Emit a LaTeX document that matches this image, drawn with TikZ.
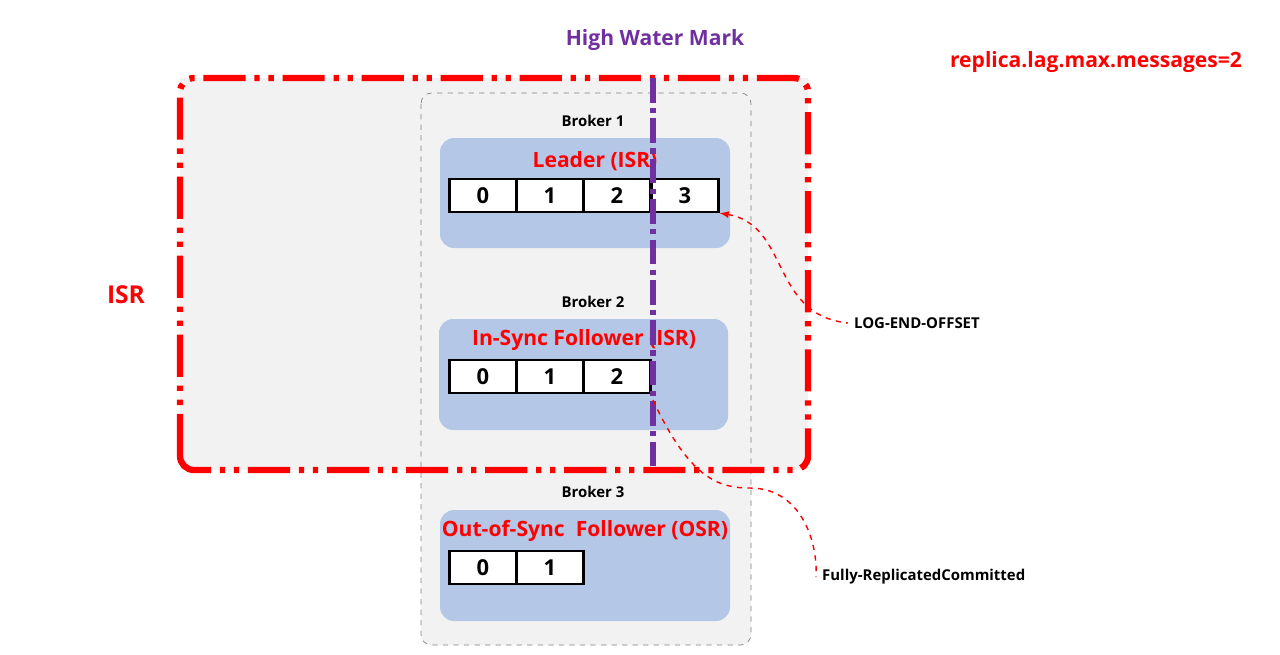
\documentclass[tikz,border=0pt]{standalone}
\usepackage{fontspec}
\setmainfont{Open Sans}
\usetikzlibrary{positioning,arrows.meta}
\definecolor{panel}{HTML}{F2F2F2}
\definecolor{blu}{HTML}{B4C7E7}
\definecolor{hwm}{HTML}{7030A0}
\definecolor{rd}{HTML}{FF0000}
\tikzset{
	broker/.style={font=\bfseries\fontsize{8.5}{10}\selectfont},
	title/.style={font=\bfseries\fontsize{12}{14}\selectfont,text=rd},
	cell/.style={draw,line width=1.2pt,fill=white,minimum width=1.34cm,minimum height=0.66cm,inner sep=0pt,font=\bfseries\fontsize{12.5}{14}\selectfont},
	logbox/.style={fill=blu,rounded corners=8pt},
	note/.style={font=\bfseries\fontsize{8.5}{10}\selectfont,anchor=west}
}
\begin{document}
\begin{tikzpicture}[x=0.02cm,y=-0.02cm,>=latex]
	\useasboundingbox (0,0) rectangle (1280,654);
	% ISR area fill and broker column
	\fill[panel] (180,78) rectangle (808,470);
	\draw[gray,dashed,fill=panel,rounded corners=6pt] (421,93) rectangle (751,645);

	% brokers
	\node (b1) [broker] at (593,121) {Broker 1};
	\fill[logbox] (440,138) rectangle (730,248);
	\node (t1) [title] at (595,161) {Leader (ISR)};
	\foreach \i/\x in {0/483,1/550,2/617,3/685}
		\node (l\i) [cell] at (\x,195.5) {\i};

	\node (b2) [broker] at (593,302) {Broker 2};
	\fill[logbox] (439,319) rectangle (728,430);
	\node (t2) [title] at (584,340) {In-Sync Follower (ISR)};
	\foreach \i/\x in {0/483,1/550,2/617}
		\node (f\i) [cell] at (\x,376.5) {\i};

	\node (b3) [broker] at (593,492) {Broker 3};
	\fill[logbox] (440,510) rectangle (730,621);
	\node (t3) [title] at (585,531) {Out-of-Sync~~Follower (OSR)};
	\foreach \i/\x in {0/483,1/550}
		\node (o\i) [cell] at (\x,567.5) {\i};

	% ISR border
	\draw[rd,line width=3.6pt,rounded corners=8pt,dash pattern=on 24pt off 5pt on 3pt off 5pt on 3pt off 5pt] (180,470) -- (180,78) -- (808,78) -- (808,470) -- cycle;
	\node (isr) [title,font=\bfseries\fontsize{14}{16}\selectfont] at (126,295) {ISR};

	% high water mark
	\coordinate (hwtop) at (653,78);
	\coordinate (hwbot) at (653,470);
	\draw[hwm,line width=3.4pt,dash pattern=on 14pt off 3pt on 3pt off 3pt] (hwtop) -- (hwbot);
	\node (hw) [font=\bfseries\fontsize{12}{14}\selectfont,text=hwm] at (655,40) {High Water Mark};
	\node (lag) [title] at (1096,62) {replica.lag.max.messages=2};

	% offsets
	\node (leo) [note] at (848,323) {LOG-END-OFFSET};
	\node (frc) [note] at (816,577) {Fully-ReplicatedCommitted};
	\draw[rd,dashed,thick,<-] (l3.south east) .. controls (790,225) and (770,315) .. (leo.west);
	\draw[rd,dashed,thick] (653,400) .. controls (690,480) and (720,488) .. (750,488) .. controls (800,488) and (818,540) .. (frc.west);
\end{tikzpicture}
\end{document}
